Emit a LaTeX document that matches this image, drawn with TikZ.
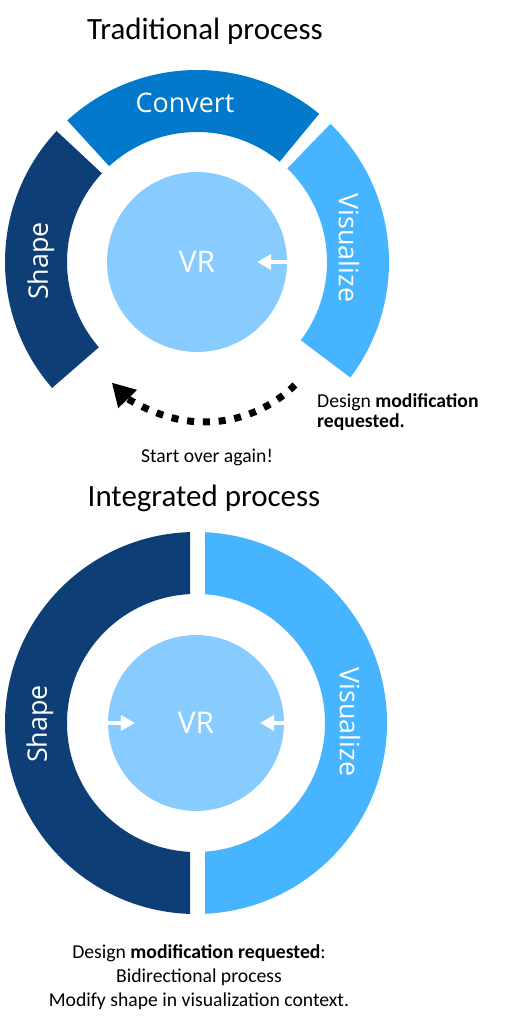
\documentclass[tikz,border=0pt]{standalone}
\usepackage{fontspec}
\setmainfont{Carlito}
\newfontfamily\labelfont{Open Sans}
\usetikzlibrary{arrows.meta,positioning,calc}
\definecolor{shapeblue}{HTML}{0D3E75}
\definecolor{convertblue}{HTML}{0279CA}
\definecolor{visblue}{HTML}{47B4FF}
\definecolor{vrblue}{HTML}{88CCFF}
\tikzset{
  title/.style={font=\fontsize{17.6}{21}\selectfont},
  caption/.style={font=\fontsize{11.2}{11.4}\selectfont, align=left},
  ringlabel/.style={text=white, font=\labelfont\fontsize{15.3}{18}\selectfont},
  vrcircle/.style={circle, fill=vrblue, text=white, font=\labelfont\fontsize{17}{20}\selectfont, inner sep=0pt},
  inarrow/.style={-{Triangle[length=8pt,width=8.5pt]}, line width=2.3pt, white},
  redo/.style={-{Triangle[length=13pt,width=14pt]}, line width=4pt, dash pattern=on 4pt off 5pt}
}

\begin{document}
\begin{tikzpicture}[x=0.02cm, y=0.02cm]
  \useasboundingbox (0,0) rectangle (507,1024);

  % traditional process
  \node[title] (trad) at (205,993) {Traditional process};
  \coordinate (top) at (197,762);
  \fill[shapeblue] ([shift={(137:192)}]top) arc[start angle=137, end angle=221, radius=192]
    -- ([shift={(221:130)}]top) arc[start angle=221, end angle=137, radius=130] -- cycle;
  \fill[convertblue] ([shift={(50.5:192)}]top) arc[start angle=50.5, end angle=132.5, radius=192]
    -- ([shift={(132.5:130)}]top) arc[start angle=132.5, end angle=50.5, radius=130] -- cycle;
  \fill[visblue] ([shift={(-37:192)}]top) arc[start angle=-37, end angle=46, radius=192]
    -- ([shift={(46:130)}]top) arc[start angle=46, end angle=-37, radius=130] -- cycle;
  \node[vrcircle, minimum size=3.6cm] (vr) at (top) {VR};
  \node[ringlabel] (convert) at (185,921) {Convert};
  \node[ringlabel, rotate=90] (shape) at (41,763) {Shape};
  \node[ringlabel, rotate=-90] (vis) at (349,776) {Visualize};
  \coordinate (vrtip) at (257,762);
  \draw[inarrow] (vr.east) -- (vrtip);

  \coordinate (redostart) at (295,639);
  \draw[redo] (redostart) arc[start angle=-45.5, end angle=-136, radius=129];
  \node[caption, anchor=west] (modreq) at (311,612) {Design \textbf{modification}\\\textbf{requested.}};
  \node[caption] (again) at (207,567) {Start over again!};

  % integrated process
  \node[title] (integ) at (204,526) {Integrated process};
  \coordinate (bot) at (196,301);
  \begin{scope}
    \clip (0,100) rectangle (190,520);
    \fill[shapeblue, even odd rule] (bot) circle[radius=191] (bot) circle[radius=129];
  \end{scope}
  \begin{scope}
    \clip (205,100) rectangle (420,520);
    \fill[visblue, even odd rule] (bot) circle[radius=191] (bot) circle[radius=129];
  \end{scope}
  \node[vrcircle, minimum size=3.52cm] (vr2) at (bot) {VR};
  \node[ringlabel, rotate=90] (shape2) at (40,300) {Shape};
  \node[ringlabel, rotate=-90] (vis2) at (350,302) {Visualize};
  \coordinate (shapetip) at (135,301);
  \coordinate (vistip) at (260,301);
  \draw[inarrow] (vr2.west) -- (shapetip);
  \draw[inarrow] (vr2.east) -- (vistip);

  \node[caption, align=center, font=\fontsize{11.2}{13.6}\selectfont] (bidir) at (199,47)
    {Design \textbf{modification requested}:\\Bidirectional process\\Modify shape in visualization context.};
\end{tikzpicture}
\end{document}
